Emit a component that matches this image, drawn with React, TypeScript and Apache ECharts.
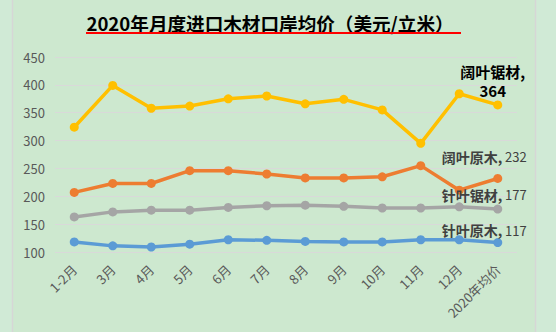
import React, { useEffect, useRef } from "react";
import * as echarts from "echarts";

const categories = ["1-2月", "3月", "4月", "5月", "6月", "7月", "8月", "9月", "10月", "11月", "12月", "2020年均价"];
const kuoyeJucai = [324, 399, 358, 362, 375, 380, 366, 374, 355, 295, 384, 364];
const kuoyeYuanmu = [207, 223, 223, 246, 246, 240, 233, 233, 235, 255, 211, 232];
const zhenyeJucai = [163, 172, 175, 175, 180, 183, 184, 182, 179, 179, 181, 177];
const zhenyeYuanmu = [118, 111, 109, 114, 122, 121, 119, 118, 118, 122, 122, 117];
const yTicks = { min: 100, max: 450, interval: 50 };
const titleText = "2020年月度进口木材口岸均价（美元/立米）";

const FONT = '"Noto Sans CJK SC", "Noto Sans", sans-serif';

function buildData(values: number[], label: any) {
  const last = values.length - 1;
  return values.map((v, i) => (i === last ? { value: v, label: { show: true, ...label } } : v));
}

function grayLabel(offsetY: number) {
  return {
    position: "top",
    align: "right",
    offset: [29, offsetY],
    formatter: (p: any) => `{n|${p.seriesName},} {v|${p.value}}`,
    rich: {
      n: { fontFamily: FONT, fontSize: 14, fontWeight: "bold", color: "#404040" },
      v: { fontFamily: FONT, fontSize: 13, color: "#404040" },
    },
  };
}

export default function App() {
  const ref = useRef<HTMLDivElement>(null);
  useEffect(() => {
    document.body.style.margin = "0";
    const chart = echarts.init(ref.current!, null, { renderer: "svg" });
    const mk = (name: string, color: string, values: number[], label: any) => ({
      name,
      type: "line",
      data: buildData(values, label),
      symbol: "circle",
      symbolSize: 9,
      lineStyle: { color, width: 3.5 },
      itemStyle: { color },
      label: { show: false },
    });
    chart.setOption({
      animation: false,
      backgroundColor: "#d0eAd6",
      textStyle: { fontFamily: FONT },
      graphic: [
        {
          type: "rect",
          z: -10,
          shape: { x: 12.5, y: -5, width: 523, height: 345 },
          style: { fill: "#cde8cf", stroke: "#d6d6d6", lineWidth: 1.5 },
        },
        {
          type: "text",
          x: 270,
          y: 22,
          style: {
            text: titleText,
            fontFamily: FONT,
            fontSize: 18.6,
            fontWeight: "bold",
            fill: "#000",
            textAlign: "center",
            textVerticalAlign: "middle",
          },
        },
        {
          type: "line",
          shape: { x1: 86, y1: 33, x2: 461, y2: 33 },
          style: { stroke: "#ff0000", lineWidth: 2 },
        },
      ],
      grid: { left: 55, right: 39, top: 57, bottom: 80, containLabel: false },
      xAxis: {
        type: "category",
        data: categories,
        boundaryGap: true,
        axisLine: { show: false },
        axisTick: { show: false },
        axisLabel: { rotate: 45, color: "#595959", fontSize: 13, fontFamily: FONT, margin: 15, interval: 0 },
      },
      yAxis: {
        type: "value",
        min: yTicks.min,
        max: yTicks.max,
        interval: yTicks.interval,
        axisLine: { show: false },
        axisTick: { show: false },
        axisLabel: { color: "#595959", fontSize: 13, fontFamily: FONT, margin: 10 },
        splitLine: { lineStyle: { color: "#d9d9d9", width: 1 } },
      },
      series: [
        mk("针叶原木", "#5b9bd5", zhenyeYuanmu, grayLabel(4)),
        mk("针叶锯材", "#a5a5a5", zhenyeJucai, grayLabel(2)),
        mk("阔叶原木", "#ed7d31", kuoyeYuanmu, grayLabel(-5)),
        mk("阔叶锯材", "#ffc000", kuoyeJucai, {
          position: "top",
          align: "center",
          offset: [-5, 5],
          formatter: (p: any) => `{b|${p.seriesName},}\n{b|${p.value}}`,
          rich: {
            b: { fontFamily: FONT, fontSize: 15, fontWeight: "bold", color: "#000", lineHeight: 19, align: "center" },
          },
        }),
      ],
    });
    return () => chart.dispose();
  }, []);
  return <div ref={ref} style={{ width: 556, height: 332 }} />;
}
